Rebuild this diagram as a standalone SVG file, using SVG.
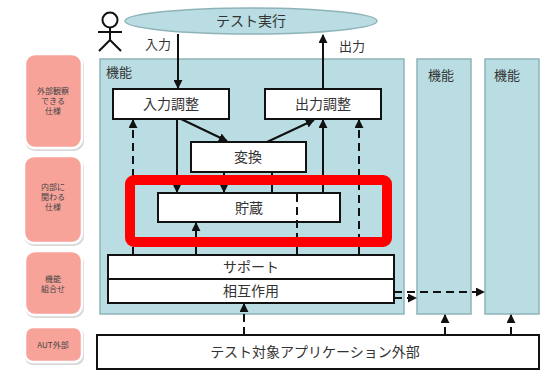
<svg xmlns="http://www.w3.org/2000/svg" width="548" height="371" viewBox="0 0 548 371">
<defs>
<style>
text{font-family:"Noto Sans CJK JP","Liberation Sans",sans-serif;fill:#333;text-anchor:middle}
.lbl{font-size:8px;fill:#444}
.t14{font-size:14px}
.t13{font-size:13px}
.panel{fill:#b9dde2;stroke:#8fb4b8;stroke-width:1.5}
.box{fill:#fff;stroke:#111;stroke-width:2}
.side{fill:#f8a39a;stroke:#fff;stroke-width:2.5}
.sh{fill:#d8d8d8}
.ln{stroke:#111;stroke-width:2;fill:none}
.ds{stroke:#111;stroke-width:2;fill:none;stroke-dasharray:8 5}
</style>
<marker id="ah" viewBox="0 0 10 10" refX="9" refY="5" markerWidth="4.5" markerHeight="4.5" orient="auto" markerUnits="strokeWidth">
<path d="M0,0L10,5L0,10z" fill="#111"/>
</marker>
</defs>
<rect width="548" height="371" fill="#fff"/>

<g id="side-labels">
<g id="side1"><rect class="sh" x="25" y="55" width="59" height="96" rx="10"/><rect class="side" x="25" y="54" width="57" height="94" rx="10"/>
<text class="lbl" x="53" y="94">外部観察</text><text class="lbl" x="53" y="104">できる</text><text class="lbl" x="53" y="114">仕様</text></g>
<g id="side2"><rect class="sh" x="24" y="157" width="60" height="89" rx="10"/><rect class="side" x="24" y="156" width="58" height="87" rx="10"/>
<text class="lbl" x="53" y="190">内部に</text><text class="lbl" x="53" y="200">関わる</text><text class="lbl" x="53" y="210">仕様</text></g>
<g id="side3"><rect class="sh" x="25" y="252" width="59" height="66" rx="10"/><rect class="side" x="25" y="251" width="57" height="64" rx="10"/>
<text class="lbl" x="53" y="282">機能</text><text class="lbl" x="53" y="292">組合せ</text></g>
<g id="side4"><rect class="sh" x="25" y="328" width="59" height="37" rx="8"/><rect class="side" x="25" y="327" width="57" height="35" rx="8"/>
<text class="lbl" x="53" y="348">AUT外部</text></g>
</g>

<g id="actor" stroke="#111" stroke-width="2" fill="none">
<circle cx="110" cy="20" r="7.5"/>
<path d="M110,27.5V40M98,32H122M110,40L99,51M110,40L121,51"/>
</g>

<g id="test-exec"><ellipse cx="251" cy="21" rx="126" ry="13" fill="#b9dde2" stroke="#8fb4b8" stroke-width="1.5"/>
<text class="t14" x="251" y="26">テスト実行</text></g>

<g id="panel-main"><rect class="panel" x="100" y="59" width="304" height="255"/><text class="t13" x="119" y="77">機能</text></g>
<g id="panel-2"><rect class="panel" x="417" y="59" width="54" height="255"/><text class="t13" x="441" y="80">機能</text></g>
<g id="panel-3"><rect class="panel" x="485" y="59" width="54" height="255"/><text class="t13" x="507" y="80">機能</text></g>

<g id="input-adj"><rect class="box" x="113" y="89" width="116" height="30"/><text class="t14" x="171" y="109">入力調整</text></g>
<g id="output-adj"><rect class="box" x="265" y="89" width="116" height="30"/><text class="t14" x="323" y="109">出力調整</text></g>
<g id="convert"><rect class="box" x="191" y="142" width="115" height="30"/><text class="t14" x="248" y="162">変換</text></g>
<g id="store"><rect class="box" x="158" y="193" width="182" height="29"/><text class="t14" x="249" y="213">貯蔵</text></g>

<g id="connectors">
<line class="ln" x1="178" y1="34" x2="178" y2="88" marker-end="url(#ah)"/>
<text class="t13" x="158" y="49">入力</text>
<line class="ln" x1="323" y1="89" x2="323" y2="35" marker-end="url(#ah)"/>
<text class="t13" x="352" y="51">出力</text>
<line class="ln" x1="181" y1="119" x2="227" y2="141" marker-end="url(#ah)"/>
<line class="ln" x1="267" y1="142" x2="314" y2="120" marker-end="url(#ah)"/>
<line class="ln" x1="177" y1="119" x2="177" y2="192" marker-end="url(#ah)"/>
<line class="ln" x1="224" y1="172" x2="224" y2="192" marker-end="url(#ah)"/>
<line class="ln" x1="272" y1="172" x2="272" y2="193"/>
<line class="ln" x1="323" y1="193" x2="323" y2="120" marker-end="url(#ah)"/>
<line class="ds" x1="133" y1="255" x2="133" y2="120" marker-end="url(#ah)"/>
<line class="ds" x1="359" y1="255" x2="359" y2="120" marker-end="url(#ah)"/>
<line class="ds" x1="297" y1="194" x2="297" y2="255"/>
<line class="ln" x1="196" y1="255" x2="196" y2="223" marker-end="url(#ah)"/>
<line class="ds" x1="244" y1="335" x2="244" y2="304" marker-end="url(#ah)"/>
<line class="ds" x1="445" y1="335" x2="445" y2="315" marker-end="url(#ah)"/>
<line class="ds" x1="511" y1="335" x2="511" y2="315" marker-end="url(#ah)"/>
<line class="ds" x1="394" y1="292" x2="484" y2="292" marker-end="url(#ah)"/>
<line class="ds" x1="394" y1="298" x2="416" y2="298" marker-end="url(#ah)"/>
</g>

<g id="highlight"><rect x="130" y="180" width="257" height="62" rx="4" fill="none" stroke="#ff0000" stroke-width="10"/></g>

<g id="support"><rect class="box" x="108" y="255" width="286" height="24"/><text class="t14" x="251" y="272">サポート</text></g>
<g id="interaction"><rect class="box" x="108" y="279" width="286" height="24"/><text class="t14" x="251" y="296">相互作用</text></g>
<g id="aut-outside"><rect class="box" x="97" y="335" width="442" height="34"/><text class="t14" x="315" y="357">テスト対象アプリケーション外部</text></g>
</svg>
